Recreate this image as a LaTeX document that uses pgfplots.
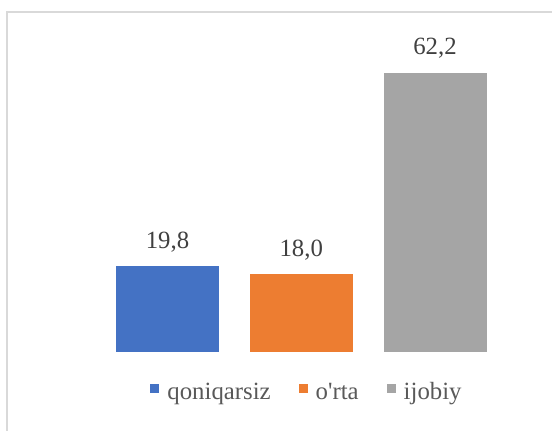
\documentclass[border=0pt]{standalone}
\usepackage{fontspec}
\setmainfont{Liberation Serif}
\usepackage{pgfplots}
\pgfplotsset{compat=1.18}
\definecolor{cblue}{HTML}{4472C4}
\definecolor{corange}{HTML}{ED7D31}
\definecolor{cgray}{HTML}{A5A5A5}
\definecolor{labeltext}{HTML}{404040}
\definecolor{legendtext}{HTML}{595959}
\definecolor{frame}{HTML}{D9D9D9}
\begin{document}
\begin{tikzpicture}
\path[use as bounding box] (0pt,0pt) rectangle (552pt,431pt);
\draw[color=frame, line width=1.5pt] (7pt,-20pt) -- (7pt,419pt) -- (580pt,419pt);
\begin{axis}[
  at={(33.75pt,79pt)}, anchor=south west,
  x=133.75pt, y=4.559pt,
  xmin=-1, xmax=3, ymin=1, ymax=70,
  hide axis, clip=false,
  ybar, bar width=103pt,
  nodes near coords={\pgfmathprintnumber[fixed,fixed zerofill,precision=1,use comma,assume math mode=true]{\pgfplotspointmeta}},
  every node near coord/.append style={anchor=base, yshift=18pt, inner sep=0pt, font=\fontsize{24.8}{28}\selectfont, text=labeltext},
  legend columns=3,
  legend style={draw=none, fill=none, at={(0.5089,-0.127)}, anchor=center,
    font=\fontsize{24.8}{28}\selectfont, text=legendtext,
    nodes={inner sep=0pt},
    /tikz/every odd column/.append style={column sep=8pt},
    /tikz/every even column/.append style={column sep=28pt}},
  legend image code/.code={\fill[#1,draw=none] (0pt,-1pt) rectangle (9pt,8pt);},
]
\addplot[fill=cblue, draw=none, bar shift=0pt] coordinates {(0,19.8)};
\addplot[fill=corange, draw=none, bar shift=0pt] coordinates {(1,18.0)};
\addplot[fill=cgray, draw=none, bar shift=0pt] coordinates {(2,62.2)};
\legend{qoniqarsiz, o\textquotesingle rta, ijobiy}
\end{axis}
\end{tikzpicture}
\end{document}
